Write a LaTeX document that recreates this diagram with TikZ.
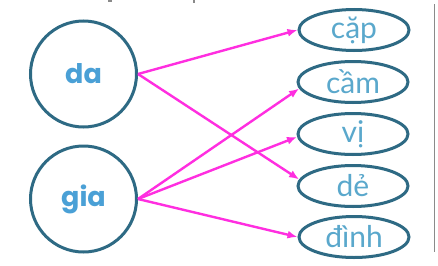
\documentclass[tikz,border=0pt]{standalone}
\usepackage{fontspec}
\setmainfont{Lato}
\newfontfamily\popfont{Poppins}
\usetikzlibrary{arrows.meta,shapes.geometric}
\definecolor{rim}{HTML}{2E6A84}
\definecolor{txtA}{HTML}{4AA0D6}
\definecolor{txtB}{HTML}{5AA8CC}
\definecolor{mag}{HTML}{FF2EE0}
\definecolor{edge}{HTML}{8A8A8A}
\begin{document}
\begin{tikzpicture}[x=1pt,y=-1pt,
  big/.style={circle,draw=rim,line width=3pt,minimum size=106pt,inner sep=0pt,text=txtA,font=\popfont\bfseries\fontsize{27}{27}\selectfont},
  word/.style={ellipse,draw=rim,line width=3pt,minimum width=110pt,minimum height=41pt,inner sep=0pt,text=txtB,font=\fontsize{30}{30}\selectfont},
  link/.style={draw=mag,line width=2.4pt,-{Latex[length=10pt,width=8pt]}}]
\useasboundingbox (0,0) rectangle (438,265);
\fill[white] (0,0) rectangle (438,265);
% frame fragments
\draw[edge,line width=1.5pt] (434.5,4) -- (434.5,252);
\fill[edge] (108,0) rectangle (112,1.5);
\fill[edge] (193,0) rectangle (195,2.5);
% nodes
\node[big] (da) at (83.5,74) {da};
\node[big] (gia) at (83.5,199) {gia};
\node[word] (cap) at (354,30) {cặp};
\node[word] (cam) at (353,82) {cầm};
\node[word] (vi) at (353,134) {vị};
\node[word] (de) at (353,186) {dẻ};
\node[word] (dinh) at (354,237) {đình};
% links
\draw[link] (da.east) -- (cap.west);
\draw[link] (da.east) -- (de.173);
\draw[link] (gia.east) -- (cam.187);
\draw[link] (gia.east) -- (vi.183);
\draw[link] (gia.east) -- (dinh.west);
\end{tikzpicture}
\end{document}
